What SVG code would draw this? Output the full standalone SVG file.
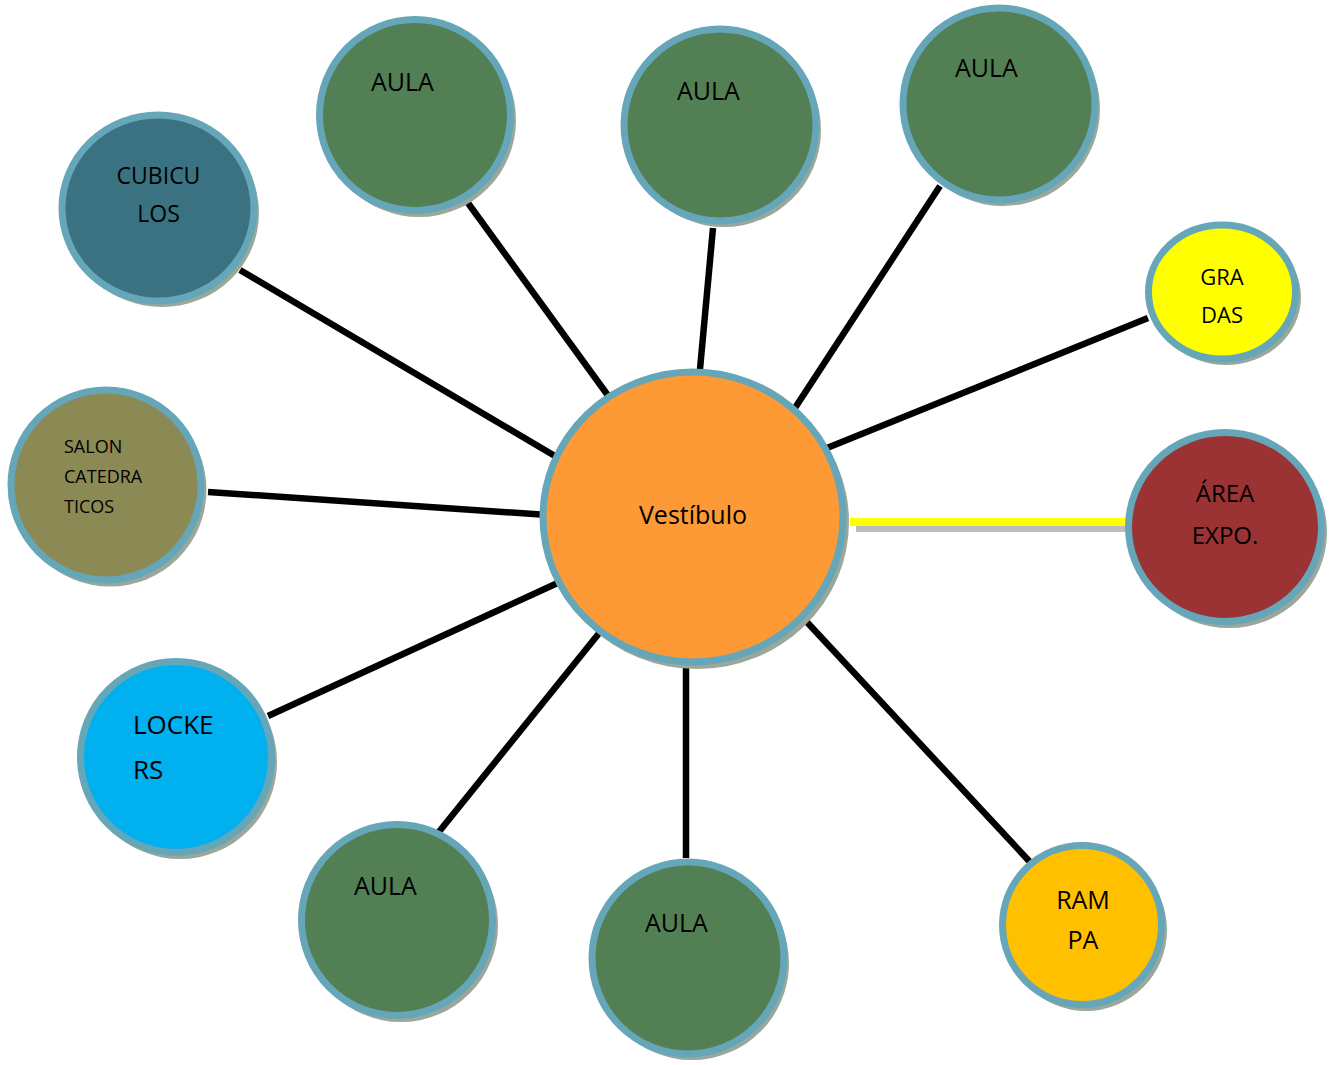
<svg xmlns="http://www.w3.org/2000/svg" width="1331" height="1065" viewBox="0 0 1331 1065">
  <style>
    .ring { stroke: #66a6b9; stroke-width: 7; }
    .shadow { fill: #9aa79b; }
    .lbl { font-family: "Open Sans", "Noto Sans", "Liberation Sans", sans-serif; fill: #000; }
    .mid { text-anchor: middle; }
    .link { stroke: #000; stroke-width: 6.5; fill: none; }
    .aula { fill: #537f55; }
  </style>

  <!-- spokes from the hub to each room -->
  <g id="connectors">
    <line class="link" x1="240" y1="270" x2="560" y2="459"/>
    <line class="link" x1="468" y1="203" x2="612" y2="401"/>
    <line class="link" x1="713" y1="228" x2="699" y2="380"/>
    <line class="link" x1="940" y1="186" x2="793" y2="411"/>
    <line class="link" x1="1148" y1="318" x2="822" y2="450"/>
    <line class="link" x1="208" y1="492" x2="548" y2="515"/>
    <line class="link" x1="268" y1="716" x2="562" y2="581"/>
    <line class="link" x1="438" y1="833" x2="600" y2="632"/>
    <line class="link" x1="686" y1="858" x2="686" y2="660"/>
    <line class="link" x1="1030" y1="862" x2="805" y2="620"/>
    <!-- highlighted link to the exhibition area -->
    <line x1="856" y1="529" x2="1130" y2="529" stroke="#bdbdbd" stroke-width="6"/>
    <line x1="850" y1="522" x2="1130" y2="522" stroke="#ffff00" stroke-width="8"/>
  </g>

  <g id="vestibulo">
    <ellipse class="shadow" cx="697" cy="522" rx="152" ry="147"/>
    <ellipse class="ring" cx="693" cy="517" rx="150" ry="145" fill="#fd9a35"/>
    <text class="lbl mid" x="693" y="524" font-size="25">Vestíbulo</text>
  </g>

  <g id="cubiculos">
    <ellipse class="shadow" cx="162" cy="213" rx="97" ry="94"/>
    <ellipse class="ring" cx="158" cy="208" rx="96" ry="93" fill="#3b7282"/>
    <text class="lbl mid" font-size="23"><tspan x="158.5" y="184">CUBICU</tspan><tspan x="158.5" y="222">LOS</tspan></text>
  </g>

  <g id="aula-1">
    <circle class="shadow" cx="419" cy="120" r="97"/>
    <circle class="ring aula" cx="415" cy="115" r="95.5"/>
    <text class="lbl" x="371" y="91" font-size="25">AULA</text>
  </g>

  <g id="aula-2">
    <circle class="shadow" cx="724" cy="130" r="97"/>
    <circle class="ring aula" cx="720" cy="125" r="96"/>
    <text class="lbl" x="677" y="100" font-size="25">AULA</text>
  </g>

  <g id="aula-3">
    <circle class="shadow" cx="1003" cy="109" r="97"/>
    <circle class="ring aula" cx="999" cy="104" r="96"/>
    <text class="lbl" x="955" y="77" font-size="25">AULA</text>
  </g>

  <g id="gradas">
    <ellipse class="shadow" cx="1226" cy="297" rx="75" ry="68"/>
    <ellipse class="ring" cx="1222" cy="292" rx="73.5" ry="67" fill="#ffff00"/>
    <text class="lbl mid" font-size="22"><tspan x="1222" y="285">GRA</tspan><tspan x="1222" y="323">DAS</tspan></text>
  </g>

  <g id="salon-catedraticos">
    <circle class="shadow" cx="110" cy="490" r="96.5"/>
    <circle class="ring" cx="106" cy="485" r="95" fill="#8b8a55"/>
    <text class="lbl" font-size="18"><tspan x="64" y="453">SALON</tspan><tspan x="64" y="483">CATEDRA</tspan><tspan x="64" y="513">TICOS</tspan></text>
  </g>

  <g id="area-expo">
    <ellipse class="shadow" cx="1229" cy="532" rx="98" ry="96"/>
    <ellipse class="ring" cx="1225" cy="527" rx="96.5" ry="94.5" fill="#9b3233"/>
    <text class="lbl mid" font-size="24"><tspan x="1225" y="502">ÁREA</tspan><tspan x="1225" y="544">EXPO.</tspan></text>
  </g>

  <g id="lockers">
    <circle class="shadow" cx="180" cy="762" r="97"/>
    <circle class="ring" cx="176" cy="757" r="95.5" fill="#00b0ef"/>
    <text class="lbl" font-size="26"><tspan x="133" y="734">LOCKE</tspan><tspan x="133" y="779">RS</tspan></text>
  </g>

  <g id="aula-4">
    <circle class="shadow" cx="401" cy="925" r="97"/>
    <circle class="ring aula" cx="397" cy="920" r="95.5"/>
    <text class="lbl" x="354" y="895" font-size="25">AULA</text>
  </g>

  <g id="aula-5">
    <circle class="shadow" cx="692" cy="963" r="97"/>
    <circle class="ring aula" cx="688" cy="958" r="96"/>
    <text class="lbl" x="645" y="932" font-size="25">AULA</text>
  </g>

  <g id="rampa">
    <circle class="shadow" cx="1086" cy="930" r="81"/>
    <circle class="ring" cx="1082" cy="925" r="79.5" fill="#ffc000"/>
    <text class="lbl mid" font-size="25"><tspan x="1083" y="909">RAM</tspan><tspan x="1083" y="949">PA</tspan></text>
  </g>
</svg>
